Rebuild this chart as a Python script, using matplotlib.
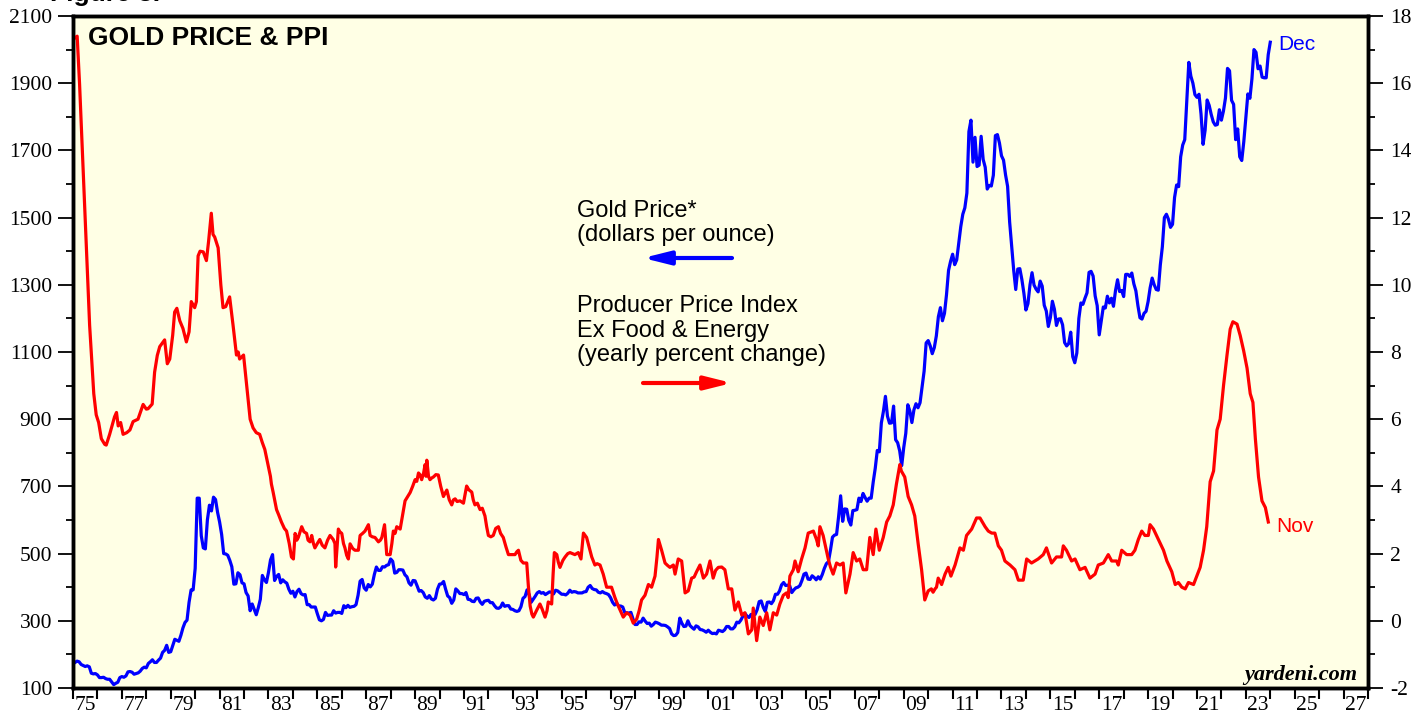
import numpy as np
import matplotlib
matplotlib.use('Agg')
from matplotlib import pyplot as plt
from matplotlib.ticker import MultipleLocator, FixedLocator, NullFormatter

plt.rcParams['axes.unicode_minus'] = False

# monthly gold price, dollars per ounce, one row per year from 1975
gold_first_year = 1975
gold_monthly = [
    [176, 180, 178, 170, 167, 164, 166, 163, 144, 142, 143, 139],
    [131, 131, 132, 128, 126, 126, 118, 110, 114, 117, 131, 134],
    [132, 136, 148, 149, 147, 141, 143, 145, 150, 158, 162, 160],
    [173, 178, 184, 176, 176, 183, 189, 206, 212, 227, 206, 208],
    [227, 245, 242, 239, 257, 279, 295, 302, 355, 392, 392, 456],
    [665, 665, 553, 517, 514, 600, 644, 627, 668, 661, 623, 594],
    [557, 500, 499, 495, 480, 461, 409, 410, 443, 437, 413, 410],
    [384, 374, 330, 350, 334, 318, 339, 364, 435, 422, 414, 444],
    [481, 497, 420, 432, 438, 413, 422, 416, 412, 394, 382, 388],
    [371, 387, 394, 381, 377, 378, 348, 348, 341, 341, 341, 321],
    [303, 300, 304, 325, 316, 317, 317, 330, 323, 325, 325, 322],
    [345, 339, 346, 340, 342, 343, 348, 376, 418, 423, 398, 391],
    [408, 401, 409, 438, 460, 450, 450, 461, 460, 465, 467, 484],
    [477, 442, 444, 452, 452, 451, 437, 431, 413, 406, 420, 419],
    [404, 388, 390, 384, 371, 367, 375, 365, 362, 367, 394, 409],
    [410, 417, 394, 374, 369, 352, 362, 395, 389, 381, 381, 378],
    [384, 364, 363, 358, 357, 367, 368, 356, 349, 358, 360, 361],
    [354, 354, 345, 338, 337, 341, 353, 343, 345, 345, 335, 334],
    [330, 328, 330, 342, 367, 372, 392, 378, 355, 364, 373, 383],
    [387, 382, 384, 378, 382, 386, 385, 380, 391, 389, 384, 379],
    [379, 377, 382, 391, 385, 387, 386, 383, 383, 383, 386, 387],
    [400, 405, 396, 393, 392, 385, 383, 387, 383, 381, 378, 369],
    [355, 347, 352, 344, 344, 341, 324, 324, 323, 325, 306, 289],
    [289, 297, 296, 308, 299, 292, 293, 284, 289, 296, 294, 291],
    [287, 287, 286, 282, 277, 261, 256, 257, 265, 308, 293, 283],
    [284, 300, 286, 280, 275, 285, 282, 274, 273, 270, 266, 272],
    [266, 262, 263, 261, 272, 270, 268, 273, 283, 283, 276, 276],
    [282, 296, 294, 302, 314, 322, 314, 310, 319, 317, 319, 333],
    [357, 359, 340, 328, 355, 356, 351, 360, 379, 379, 389, 407],
    [414, 405, 406, 404, 384, 392, 398, 400, 405, 420, 439, 442],
    [424, 423, 434, 429, 422, 431, 424, 438, 456, 470, 476, 510],
    [549, 555, 557, 610, 672, 596, 633, 632, 599, 585, 628, 629],
    [631, 665, 655, 679, 667, 656, 665, 665, 713, 754, 807, 803],
    [889, 923, 968, 909, 888, 889, 939, 839, 830, 806, 762, 816],
    [858, 943, 924, 890, 928, 946, 934, 949, 996, 1043, 1127, 1134],
    [1118, 1095, 1113, 1148, 1205, 1232, 1193, 1215, 1271, 1343, 1370, 1391],
    [1360, 1374, 1424, 1473, 1510, 1529, 1573, 1756, 1790, 1665, 1739, 1652],
    [1656, 1742, 1673, 1650, 1585, 1596, 1594, 1626, 1744, 1747, 1722, 1684],
    [1671, 1627, 1593, 1487, 1414, 1343, 1286, 1347, 1348, 1316, 1275, 1225],
    [1244, 1300, 1336, 1299, 1287, 1279, 1311, 1296, 1239, 1222, 1176, 1202],
    [1251, 1227, 1179, 1198, 1199, 1181, 1128, 1118, 1125, 1159, 1086, 1068],
    [1097, 1200, 1246, 1242, 1260, 1276, 1337, 1340, 1326, 1267, 1238, 1151],
    [1192, 1234, 1231, 1266, 1246, 1260, 1236, 1283, 1315, 1280, 1283, 1265],
    [1331, 1331, 1325, 1335, 1303, 1282, 1238, 1202, 1198, 1215, 1221, 1250],
    [1291, 1320, 1300, 1286, 1284, 1359, 1413, 1500, 1510, 1495, 1471, 1480],
    [1560, 1597, 1592, 1681, 1716, 1732, 1846, 1962, 1921, 1900, 1866, 1858],
    [1867, 1808, 1718, 1760, 1850, 1834, 1807, 1785, 1775, 1777, 1821, 1790],
    [1817, 1856, 1944, 1937, 1849, 1837, 1732, 1764, 1681, 1670, 1726, 1798],
    [1868, 1855, 1913, 2000, 1992, 1943, 1951, 1918, 1916, 1916, 1985, 2022],
]

# PPI ex food & energy, yearly % change: (date, value)
ppi_readings = [
    (1975.08, 17.35), (1975.17, 17.4), (1975.27, 15.96), (1975.48, 12.26), (1975.68, 8.8),
    (1975.85, 6.76), (1975.95, 6.13), (1976.05, 5.9), (1976.16, 5.42), (1976.3, 5.25),
    (1976.36, 5.23), (1976.5, 5.55), (1976.7, 6.07), (1976.78, 6.2), (1976.85, 5.8),
    (1976.95, 5.9), (1977.05, 5.55), (1977.2, 5.6), (1977.33, 5.68), (1977.46, 5.93),
    (1977.66, 6.0), (1977.87, 6.44), (1978.0, 6.3), (1978.07, 6.31), (1978.24, 6.45),
    (1978.34, 7.4), (1978.45, 7.9), (1978.55, 8.16), (1978.75, 8.36), (1978.86, 7.65),
    (1978.96, 7.79), (1979.08, 8.5), (1979.16, 9.19), (1979.25, 9.3), (1979.37, 8.93),
    (1979.5, 8.7), (1979.64, 8.3), (1979.75, 8.6), (1979.84, 9.5), (1979.98, 9.32),
    (1980.05, 9.5), (1980.12, 10.86), (1980.2, 11.0), (1980.33, 10.98), (1980.46, 10.72),
    (1980.55, 11.3), (1980.66, 12.13), (1980.73, 11.5), (1980.8, 11.42), (1980.94, 11.1),
    (1981.05, 10.0), (1981.14, 9.32), (1981.25, 9.35), (1981.41, 9.64), (1981.55, 8.8),
    (1981.69, 7.91), (1981.76, 8.0), (1981.82, 7.79), (1981.9, 7.85), (1981.98, 7.91),
    (1982.08, 7.2), (1982.16, 6.63), (1982.25, 6.0), (1982.37, 5.74), (1982.5, 5.6),
    (1982.64, 5.55), (1982.75, 5.3), (1982.85, 5.1), (1982.98, 4.65), (1983.08, 4.3),
    (1983.12, 4.07), (1983.19, 3.83), (1983.33, 3.31), (1983.42, 3.15), (1983.53, 2.94),
    (1983.65, 2.75), (1983.74, 2.67), (1983.85, 2.3), (1983.94, 1.9), (1984.02, 1.84),
    (1984.09, 2.6), (1984.16, 2.4), (1984.22, 2.48), (1984.36, 2.8), (1984.45, 2.65),
    (1984.56, 2.6), (1984.62, 2.4), (1984.7, 2.35), (1984.77, 2.54), (1984.84, 2.3),
    (1984.9, 2.17), (1985.0, 2.3), (1985.1, 2.42), (1985.2, 2.25), (1985.31, 2.17),
    (1985.42, 2.4), (1985.52, 2.54), (1985.65, 2.42), (1985.72, 2.3), (1985.75, 1.6),
    (1985.86, 2.73), (1985.92, 2.65), (1986.0, 2.6), (1986.07, 2.3), (1986.13, 2.17),
    (1986.2, 1.95), (1986.27, 1.84), (1986.34, 2.29), (1986.45, 2.15), (1986.54, 2.1),
    (1986.68, 2.1), (1986.75, 2.54), (1986.85, 2.6), (1986.95, 2.67), (1987.09, 2.86),
    (1987.16, 2.54), (1987.25, 2.5), (1987.36, 2.48), (1987.5, 2.35), (1987.58, 2.4),
    (1987.64, 2.48), (1987.75, 2.86), (1987.84, 1.97), (1987.98, 1.97), (1988.05, 2.3),
    (1988.11, 2.67), (1988.18, 2.6), (1988.25, 2.8), (1988.39, 2.73), (1988.5, 3.2),
    (1988.59, 3.57), (1988.7, 3.7), (1988.8, 3.82), (1988.9, 4.0), (1989.0, 4.2),
    (1989.07, 4.15), (1989.14, 4.4), (1989.2, 4.35), (1989.27, 4.2), (1989.35, 4.4),
    (1989.41, 4.65), (1989.45, 4.3), (1989.48, 4.78), (1989.55, 4.3), (1989.61, 4.2),
    (1989.68, 4.25), (1989.75, 4.28), (1989.85, 4.35), (1989.95, 4.34), (1990.05, 4.0),
    (1990.16, 3.7), (1990.23, 3.8), (1990.3, 3.89), (1990.4, 3.6), (1990.5, 3.45),
    (1990.57, 3.6), (1990.64, 3.63), (1990.72, 3.55), (1990.84, 3.57), (1990.98, 3.5),
    (1991.11, 4.01), (1991.2, 3.9), (1991.32, 3.83), (1991.38, 3.6), (1991.45, 3.45),
    (1991.55, 3.5), (1991.66, 3.31), (1991.75, 3.35), (1991.86, 3.12), (1991.93, 2.8),
    (1992.0, 2.54), (1992.1, 2.5), (1992.2, 2.54), (1992.3, 2.75), (1992.41, 2.8),
    (1992.5, 2.6), (1992.61, 2.48), (1992.72, 2.2), (1992.82, 1.97), (1992.95, 1.97),
    (1993.09, 1.97), (1993.16, 2.05), (1993.23, 2.1), (1993.33, 1.8), (1993.43, 1.72),
    (1993.57, 1.72), (1993.64, 1.0), (1993.71, 0.44), (1993.78, 0.2), (1993.84, 0.11),
    (1993.98, 0.32), (1994.11, 0.5), (1994.2, 0.35), (1994.32, 0.11), (1994.4, 0.3),
    (1994.45, 0.56), (1994.59, 0.5), (1994.65, 1.4), (1994.7, 2.03), (1994.8, 1.97),
    (1994.86, 1.75), (1994.93, 1.59), (1995.05, 1.8), (1995.14, 1.9), (1995.25, 2.0),
    (1995.34, 2.03), (1995.44, 2.0), (1995.54, 1.97), (1995.68, 2.03), (1995.79, 1.84),
    (1995.85, 2.3), (1995.89, 2.61), (1995.95, 2.55), (1996.02, 2.48), (1996.12, 2.2),
    (1996.23, 1.9), (1996.36, 1.66), (1996.45, 1.7), (1996.57, 1.66), (1996.7, 1.39),
    (1996.77, 1.2), (1996.84, 1.0), (1997.04, 1.0), (1997.18, 0.69), (1997.28, 0.5),
    (1997.39, 0.32), (1997.52, 0.11), (1997.66, 0.24), (1997.8, 0.17), (1997.93, -0.07),
    (1998.07, 0.05), (1998.17, 0.3), (1998.27, 0.62), (1998.41, 0.76), (1998.55, 1.08),
    (1998.68, 1.0), (1998.82, 1.33), (1998.9, 1.9), (1998.96, 2.42), (1999.09, 2.1),
    (1999.23, 1.72), (1999.33, 1.65), (1999.43, 1.59), (1999.57, 1.66), (1999.64, 1.39),
    (1999.77, 1.84), (1999.91, 1.78), (2000.05, 0.83), (2000.18, 0.89), (2000.32, 1.27),
    (2000.42, 1.3), (2000.52, 1.46), (2000.66, 1.66), (2000.8, 1.27), (2000.93, 1.39),
    (2001.07, 1.78), (2001.2, 1.27), (2001.3, 1.5), (2001.41, 1.59), (2001.55, 1.6),
    (2001.68, 1.52), (2001.82, 0.95), (2001.96, 0.95), (2002.09, 0.32), (2002.23, 0.56),
    (2002.37, 0.17), (2002.5, 0.24), (2002.64, -0.39), (2002.78, -0.27), (2002.84, 0.38),
    (2002.98, -0.59), (2003.11, 0.11), (2003.25, -0.14), (2003.39, 0.24), (2003.52, -0.27),
    (2003.66, 0.24), (2003.8, 0.17), (2003.93, 0.5), (2004.07, 0.76), (2004.2, 0.83),
    (2004.27, 0.69), (2004.34, 1.33), (2004.48, 1.52), (2004.55, 1.78), (2004.68, 1.46),
    (2004.82, 1.84), (2004.96, 2.17), (2005.09, 2.61), (2005.3, 2.67), (2005.43, 2.42),
    (2005.5, 2.23), (2005.57, 2.8), (2005.7, 2.54), (2005.8, 2.2), (2005.91, 1.84),
    (2006.0, 1.6), (2006.11, 1.39), (2006.25, 1.72), (2006.39, 1.66), (2006.52, 1.72),
    (2006.63, 0.83), (2006.8, 1.39), (2006.93, 2.03), (2007.07, 1.78), (2007.2, 1.84),
    (2007.34, 1.52), (2007.48, 1.52), (2007.61, 2.48), (2007.75, 1.97), (2007.86, 2.73),
    (2008.0, 2.1), (2008.16, 2.48), (2008.3, 2.94), (2008.43, 3.12), (2008.57, 3.45),
    (2008.7, 4.07), (2008.84, 4.65), (2008.9, 4.46), (2009.04, 4.28), (2009.18, 3.7),
    (2009.32, 3.45), (2009.45, 3.12), (2009.59, 2.29), (2009.73, 1.52), (2009.86, 0.62),
    (2010.0, 0.89), (2010.13, 0.95), (2010.2, 0.85), (2010.28, 0.95), (2010.34, 1.0),
    (2010.41, 1.27), (2010.55, 1.08), (2010.69, 1.39), (2010.82, 1.59), (2010.93, 1.33),
    (2011.1, 1.66), (2011.3, 2.17), (2011.44, 2.1), (2011.57, 2.54), (2011.78, 2.73),
    (2011.98, 3.06), (2012.12, 3.06), (2012.33, 2.8), (2012.46, 2.67), (2012.6, 2.61),
    (2012.73, 2.61), (2012.87, 2.23), (2013.0, 2.1), (2013.14, 1.78), (2013.35, 1.66),
    (2013.55, 1.52), (2013.69, 1.21), (2013.89, 1.21), (2014.03, 1.84), (2014.23, 1.72),
    (2014.5, 1.84), (2014.71, 1.97), (2014.84, 2.17), (2015.05, 1.72), (2015.25, 1.9),
    (2015.46, 1.9), (2015.53, 2.23), (2015.66, 2.1), (2015.87, 1.78), (2016.01, 1.84),
    (2016.21, 1.52), (2016.42, 1.59), (2016.62, 1.27), (2016.83, 1.39), (2016.96, 1.66),
    (2017.17, 1.72), (2017.37, 1.97), (2017.51, 1.78), (2017.71, 1.78), (2017.78, 1.66),
    (2017.92, 2.1), (2018.12, 1.97), (2018.33, 1.97), (2018.46, 2.1), (2018.6, 2.42),
    (2018.74, 2.67), (2018.87, 2.54), (2019.01, 2.54), (2019.08, 2.86), (2019.22, 2.73),
    (2019.42, 2.42), (2019.63, 2.1), (2019.77, 1.78), (2019.97, 1.46), (2020.11, 1.08),
    (2020.24, 1.14), (2020.38, 1.0), (2020.52, 0.95), (2020.65, 1.14), (2020.86, 1.08),
    (2020.99, 1.33), (2021.13, 1.59), (2021.27, 2.1), (2021.4, 2.8), (2021.54, 4.14),
    (2021.68, 4.46), (2021.82, 5.68), (2021.95, 6.0), (2022.09, 7.02), (2022.23, 7.91),
    (2022.36, 8.68), (2022.47, 8.9), (2022.64, 8.83), (2022.77, 8.49), (2022.91, 8.04),
    (2023.05, 7.52), (2023.18, 6.76), (2023.29, 6.5), (2023.39, 5.42), (2023.52, 4.28),
    (2023.66, 3.57), (2023.8, 3.37), (2023.92, 2.94),
]

year_labels = ['75', '77', '79', '81', '83', '85', '87', '89', '91', '93', '95', '97', '99',
               '01', '03', '05', '07', '09', '11', '13', '15', '17', '19', '21', '23', '25', '27']

BLUE = '#0000FF'
RED = '#FF0000'
SERIF = ['Liberation Serif', 'DejaVu Serif']
SANS = ['Liberation Sans', 'DejaVu Sans']

W, H = 1428, 719
L, R, T, B = 73, 1368, 16, 688

fig = plt.figure(figsize=(W / 100, H / 100), dpi=100)
ax = fig.add_axes([L / W, (H - B) / H, (R - L) / W, (B - T) / H])
ax.set_facecolor('#FFFFE5')
ax2 = ax.twinx()


def pos(px, py):
    # pixel position in the picture -> axes fraction
    return (px - L) / (R - L), (B - py) / (B - T)


gold = np.array(gold_monthly, dtype=float).ravel()
n_years = len(gold_monthly)
gold_t = np.repeat(np.arange(gold_first_year, gold_first_year + n_years), 12) + np.tile(np.arange(1, 13), n_years) / 12
ax.plot(gold_t, gold, color=BLUE, lw=2.3, solid_joinstyle='round')

ppi_t = [p[0] for p in ppi_readings]
ppi_v = [p[1] for p in ppi_readings]
ax2.plot(ppi_t, ppi_v, color=RED, lw=2.3, solid_joinstyle='round')

ax.set_xlim(1975, 2028)
ax.set_ylim(100, 2100)
ax2.set_ylim(-2, 18)

# x axis: ticks at year boundaries, labels centred in odd years
ax.xaxis.set_major_locator(MultipleLocator(1))
ax.xaxis.set_major_formatter(NullFormatter())
ax.set_xticks([1975.5 + 2 * i for i in range(len(year_labels))], labels=year_labels, minor=True)
ax.tick_params(axis='x', which='major', direction='out', length=8, width=1.5, color='black')
ax.tick_params(axis='x', which='minor', length=0, pad=6, labelsize=15.5)

ax.set_yticks(range(100, 2101, 200))
ax.yaxis.set_minor_locator(MultipleLocator(100))
ax.tick_params(axis='y', which='major', direction='out', length=11, width=1.3, pad=4, labelsize=15.5)
ax.tick_params(axis='y', which='minor', direction='out', length=5, width=1.3)

ax2.set_yticks(range(-2, 19, 2))
ax2.yaxis.set_minor_locator(MultipleLocator(1))
ax2.tick_params(axis='y', which='major', direction='out', length=11, width=1.3, pad=5, labelsize=15.5)
ax2.tick_params(axis='y', which='minor', direction='out', length=5, width=1.3)

for a in (ax, ax2):
    for lab in a.get_xticklabels(minor=True) + a.get_yticklabels():
        lab.set_fontfamily(SERIF)
    for sp in a.spines.values():
        sp.set_linewidth(2.5)
        sp.set_color('black')

# texts
ax.text(*pos(88, 45), 'GOLD PRICE & PPI', transform=ax.transAxes, fontsize=19,
        fontweight='bold', family=SANS, va='baseline')
ax.text(*pos(577, 217), 'Gold Price*', transform=ax.transAxes, fontsize=17, family=SANS, va='baseline')
ax.text(*pos(577, 241), '(dollars per ounce)', transform=ax.transAxes, fontsize=17, family=SANS, va='baseline')
ax.text(*pos(577, 312), 'Producer Price Index', transform=ax.transAxes, fontsize=17, family=SANS, va='baseline')
ax.text(*pos(577, 337), 'Ex Food & Energy', transform=ax.transAxes, fontsize=17, family=SANS, va='baseline')
ax.text(*pos(577, 361), '(yearly percent change)', transform=ax.transAxes, fontsize=17, family=SANS, va='baseline')

arrow = dict(arrowstyle='-|>,head_length=1.6,head_width=0.4', lw=3, shrinkA=0, shrinkB=0)
ax.annotate('', xy=pos(643, 258), xytext=pos(732, 258), xycoords='axes fraction',
            arrowprops=dict(arrow, color=BLUE))
ax.annotate('', xy=pos(732, 383), xytext=pos(643, 383), xycoords='axes fraction',
            arrowprops=dict(arrow, color=RED))

ax.text(*pos(1278, 50), 'Dec', transform=ax.transAxes, fontsize=15, family=SANS, color=BLUE, va='baseline')
ax.text(*pos(1276, 532), 'Nov', transform=ax.transAxes, fontsize=15, family=SANS, color=RED, va='baseline')
ax.text(*pos(1357, 680), 'yardeni.com', transform=ax.transAxes, fontsize=16, family=SERIF,
        fontweight='bold', fontstyle='italic', ha='right', va='baseline')

# figure caption, cut off at the top edge as in the source image
fig.text(50 / W, 1 - 1 / H, 'Figure 3.', fontsize=19, fontweight='bold', family=SANS, va='baseline')

fig.savefig('out.png', dpi=100, facecolor='white')
